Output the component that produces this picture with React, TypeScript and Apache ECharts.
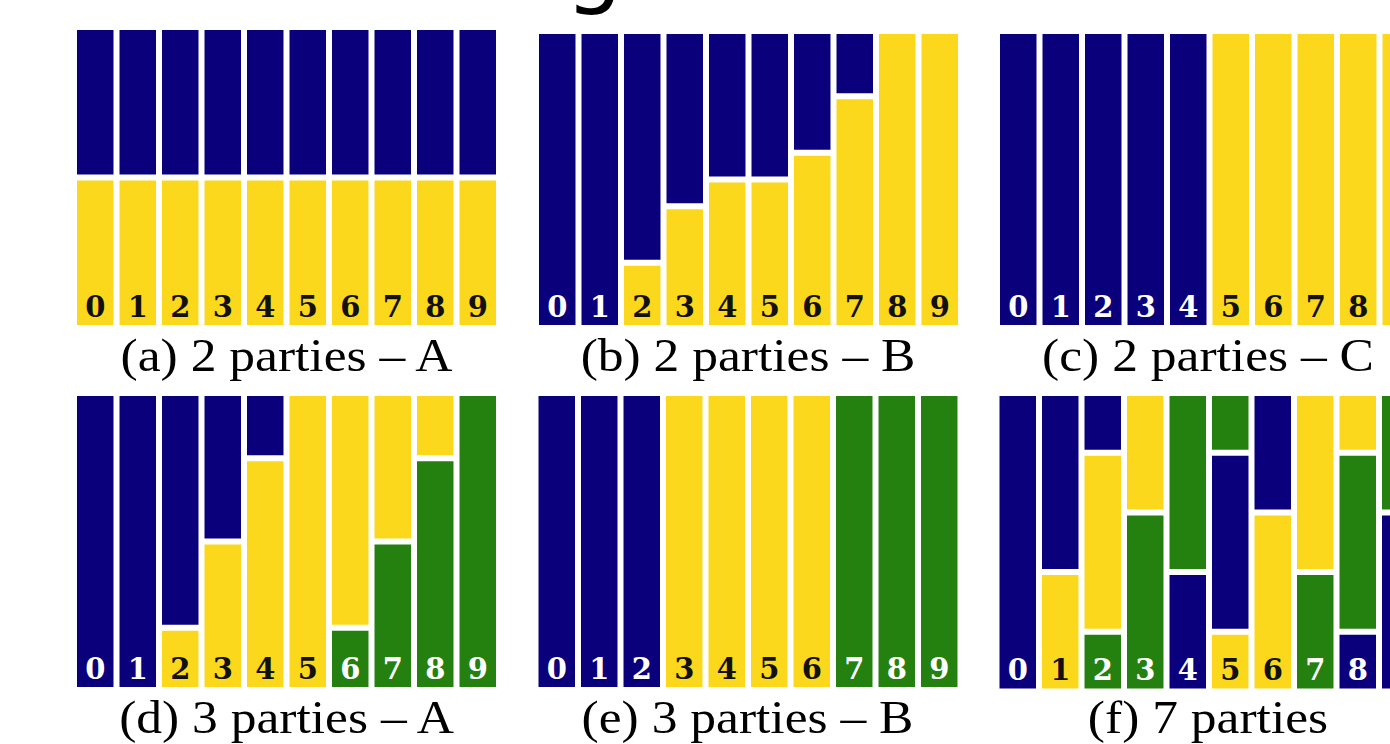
import React, { useEffect, useRef } from 'react';
import * as echarts from 'echarts';

// ---------- data ----------
const categories = ['0', '1', '2', '3', '4', '5', '6', '7', '8', '9'];

const captions = [
  '(a) 2 parties – A',
  '(b) 2 parties – B',
  '(c) 2 parties – C',
  '(d) 3 parties – A',
  '(e) 3 parties – B',
  '(f) 7 parties',
];

type Seg = [string, number];

// each bar: segments from bottom to top, [party colour key, share]
const panelA: Seg[][] = [
  [['Y', 0.5], ['B', 0.5]],
  [['Y', 0.5], ['B', 0.5]],
  [['Y', 0.5], ['B', 0.5]],
  [['Y', 0.5], ['B', 0.5]],
  [['Y', 0.5], ['B', 0.5]],
  [['Y', 0.5], ['B', 0.5]],
  [['Y', 0.5], ['B', 0.5]],
  [['Y', 0.5], ['B', 0.5]],
  [['Y', 0.5], ['B', 0.5]],
  [['Y', 0.5], ['B', 0.5]],
];

const panelB: Seg[][] = [
  [['B', 1]],
  [['B', 1]],
  [['Y', 0.22], ['B', 0.78]],
  [['Y', 0.41], ['B', 0.59]],
  [['Y', 0.5], ['B', 0.5]],
  [['Y', 0.5], ['B', 0.5]],
  [['Y', 0.59], ['B', 0.41]],
  [['Y', 0.78], ['B', 0.22]],
  [['Y', 1]],
  [['Y', 1]],
];

const panelC: Seg[][] = [
  [['B', 1]],
  [['B', 1]],
  [['B', 1]],
  [['B', 1]],
  [['B', 1]],
  [['Y', 1]],
  [['Y', 1]],
  [['Y', 1]],
  [['Y', 1]],
  [['Y', 1]],
];

const panelD: Seg[][] = [
  [['B', 1]],
  [['B', 1]],
  [['Y', 0.21], ['B', 0.79]],
  [['Y', 0.5], ['B', 0.5]],
  [['Y', 0.78], ['B', 0.22]],
  [['Y', 1]],
  [['G', 0.21], ['Y', 0.79]],
  [['G', 0.5], ['Y', 0.5]],
  [['G', 0.78], ['Y', 0.22]],
  [['G', 1]],
];

const panelE: Seg[][] = [
  [['B', 1]],
  [['B', 1]],
  [['B', 1]],
  [['Y', 1]],
  [['Y', 1]],
  [['Y', 1]],
  [['Y', 1]],
  [['G', 1]],
  [['G', 1]],
  [['G', 1]],
];

const panelF: Seg[][] = [
  [['B', 1]],
  [['Y', 0.4], ['B', 0.6]],
  [['G', 0.2], ['Y', 0.6], ['B', 0.2]],
  [['G', 0.6], ['Y', 0.4]],
  [['B', 0.4], ['G', 0.6]],
  [['Y', 0.2], ['B', 0.6], ['G', 0.2]],
  [['Y', 0.6], ['B', 0.4]],
  [['G', 0.4], ['Y', 0.6]],
  [['B', 0.2], ['G', 0.6], ['Y', 0.2]],
  [['B', 0.6], ['G', 0.4]],
];

// panels whose last bar is cropped by the picture's right edge (its digit is not visible)
const croppedLastLabel = [false, false, true, false, false, true];

// ---------- styles / layout ----------
const partyColors: Record<string, string> = { B: '#0a007c', Y: '#fbd81b', G: '#24800f' };
const labelColors: Record<string, string> = { B: '#ffffff', Y: '#111111', G: '#ffffff' };

const panels = [panelA, panelB, panelC, panelD, panelE, panelF];

const grids = [
  { left: 74, top: 27, width: 425, height: 301 },
  { left: 536, top: 31, width: 425, height: 297 },
  { left: 997, top: 31, width: 425, height: 297 },
  { left: 74, top: 393, width: 425, height: 297 },
  { left: 535.5, top: 393, width: 425, height: 297 },
  { left: 996.5, top: 393, width: 425, height: 298.5 },
];

const captionPos = [
  { x: 286.5, y: 355.5 },
  { x: 748, y: 355.5 },
  { x: 1208, y: 355.5 },
  { x: 286.5, y: 717.5 },
  { x: 747.5, y: 717.5 },
  { x: 1208, y: 717.5 },
];

function buildOption() {
  const series: any[] = [];
  panels.forEach((bars, p) => {
    const levels = Math.max(...bars.map((b) => b.length));
    for (let k = 0; k < levels; k++) {
      series.push({
        type: 'bar',
        xAxisIndex: p,
        yAxisIndex: p,
        stack: 'panel' + p,
        barCategoryGap: '0%',
        itemStyle: { borderColor: '#ffffff', borderWidth: 3 },
        label:
          k === 0
            ? {
                show: true,
                position: 'insideBottom',
                distance: 7,
                formatter: '{b}',
                fontFamily: 'DejaVu Serif',
                fontWeight: 'bold',
                fontSize: 29,
              }
            : { show: false },
        emphasis: { disabled: true },
        data: bars.map((segs, i) =>
          segs[k]
            ? {
                value: segs[k][1],
                itemStyle: { color: partyColors[segs[k][0]] },
                label:
                  k === 0
                    ? {
                        color: labelColors[segs[k][0]],
                        show: !(croppedLastLabel[p] && i === bars.length - 1),
                      }
                    : undefined,
              }
            : '-'
        ),
      });
    }
  });

  return {
    animation: false,
    backgroundColor: '#ffffff',
    grid: grids.map((g) => ({ ...g })),
    xAxis: grids.map((_, i) => ({
      type: 'category',
      gridIndex: i,
      data: categories,
      show: false,
    })),
    yAxis: grids.map((_, i) => ({
      type: 'value',
      gridIndex: i,
      min: 0,
      max: 1,
      show: false,
    })),
    series,
    graphic: [
      {
        type: 'text',
        x: 594,
        y: -36,
        silent: true,
        style: {
          text: 'g',
          fontFamily: 'DejaVu Sans',
          fontSize: 90,
          fill: '#000000',
          align: 'center',
          verticalAlign: 'middle',
          textAlign: 'center',
          textVerticalAlign: 'middle',
        },
      },
      ...captions.map((t, i) => ({
        type: 'text',
        x: captionPos[i].x,
        y: captionPos[i].y,
        scaleX: 1.12,
        silent: true,
        style: {
          text: t,
          fontFamily: 'Liberation Serif',
          fontSize: 46,
          fill: '#000000',
          align: 'center',
          verticalAlign: 'middle',
          textAlign: 'center',
          textVerticalAlign: 'middle',
        },
      })),
    ],
  };
}

export default function App() {
  const ref = useRef<HTMLDivElement>(null);
  useEffect(() => {
    if (!ref.current) return;
    const chart = echarts.init(ref.current, undefined, { renderer: 'svg' });
    chart.setOption(buildOption() as any);
    return () => chart.dispose();
  }, []);
  return (
    <div
      style={{
        position: 'absolute',
        left: 0,
        top: 0,
        width: 1390,
        height: 744,
        overflow: 'hidden',
        background: '#fff',
      }}
    >
      <div ref={ref} style={{ width: 1440, height: 744 }} />
    </div>
  );
}
